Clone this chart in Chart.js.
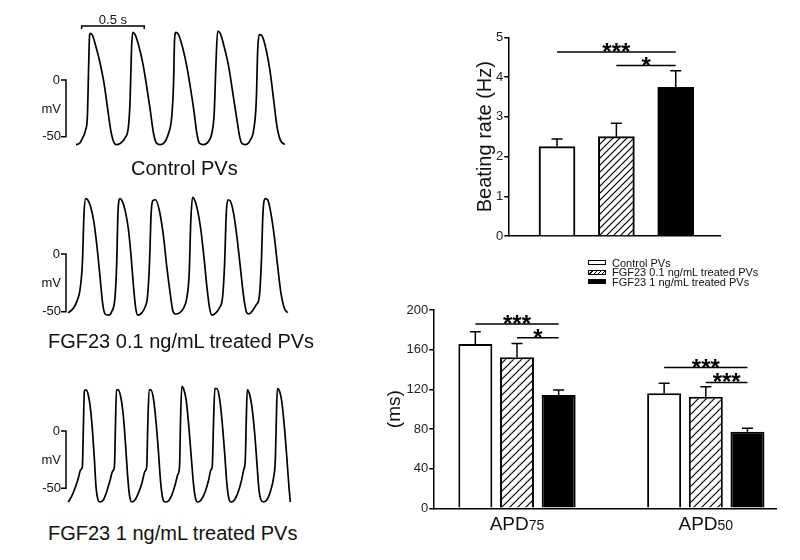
<!DOCTYPE html>
<html lang="en">
<head>
  <meta charset="UTF-8" />
  <title>FGF23 PVs</title>
  <script src="https://cdn.jsdelivr.net/npm/chart.js"></script>
  <style>
    body { margin: 0; background: #fff; width: 800px; height: 560px; position: relative; overflow: hidden;
           font-family: "Liberation Sans", Arial, sans-serif; color: #111; }
    canvas { position: absolute; }
    .caption { position: absolute; font-size: 20px; line-height: 20px; white-space: nowrap; }
    .legend { position: absolute; left: 588px; top: 258px; font-size: 11px; }
    .legend div { display: flex; align-items: center; height: 9.5px; }
    .sw { width: 16px; height: 3px; border: 1px solid #000; margin-right: 6px; background: #fff; }
    .sw.hatch { background: repeating-linear-gradient(135deg, #fff 0 2px, #000 2px 3px); }
    .sw.solid { background: #000; }
  </style>
</head>
<body>

  <canvas id="trace1" width="300" height="175" style="left:0;top:0"></canvas>
  <canvas id="trace2" width="300" height="170" style="left:0;top:180px"></canvas>
  <canvas id="trace3" width="300" height="160" style="left:0;top:360px"></canvas>
  <div class="caption" style="left:131px;top:158px">Control PVs</div>
  <div class="caption" style="left:48px;top:331px">FGF23 0.1 ng/mL treated PVs</div>
  <div class="caption" style="left:48px;top:523px">FGF23 1 ng/mL treated PVs</div>

  <canvas id="rateChart" width="300" height="240" style="left:430px;top:20px"></canvas>
  <div class="legend">
    <div><span class="sw"></span><span>Control PVs</span></div>
    <div><span class="sw hatch"></span><span>FGF23 0.1 ng/mL treated PVs</span></div>
    <div><span class="sw solid"></span><span>FGF23 1 ng/mL treated PVs</span></div>
  </div>
  <canvas id="apdChart" width="420" height="260" style="left:370px;top:295px"></canvas>

  <script>
    // action potential traces, [time ms, membrane potential mV]
    const controlTrace = [
      [0,-57],[27,-56],[53,-51],[77,-44],[91,-32],[101,12],[109,40],[117,41],[133,39],[160,29],[192,15],[224,-3],[251,-24],[277,-44],[299,-54],[320,-57],[352,-56],
      [392,-51],[419,-41],[432,-18],[443,26],[453,42],[472,40],[499,31],[533,15],[565,-6],[592,-26],[619,-47],[645,-56],[672,-57],
      [699,-56],[739,-47],[765,-32],[779,-3],[787,35],[797,42],[819,40],[853,28],[885,12],[917,-9],[944,-29],[965,-47],[987,-56],[1019,-57],
      [1059,-54],[1085,-47],[1104,-29],[1117,12],[1131,43],[1152,41],[1184,29],[1219,12],[1253,-12],[1285,-35],[1307,-50],[1325,-56],[1352,-57],
      [1392,-53],[1419,-44],[1440,-18],[1451,26],[1464,40],[1485,39],[1520,26],[1552,6],[1579,-18],[1605,-41],[1632,-53],[1667,-57]
    ];
    const lowDoseTrace = [
      [-62,-51],[-21,-47],[11,-40],[32,-31],[51,-8],[64,35],[77,48],[93,47],[117,41],[144,27],[171,3],[192,-20],[213,-43],[232,-52],[259,-53],[285,-50],
      [312,-37],[325,-8],[336,38],[352,48],[368,46],[392,38],[419,21],[440,-2],[459,-28],[477,-47],[493,-53],[525,-51],[552,-46],
      [571,-37],[587,-8],[600,35],[613,46],[635,47],[667,37],[699,15],[725,-11],[752,-34],[773,-49],[792,-52],[827,-51],[859,-47],
      [885,-38],[904,-17],[917,29],[931,49],[947,47],[971,38],[997,21],[1024,-5],[1045,-28],[1067,-47],[1085,-53],[1117,-51],[1144,-47],
      [1171,-37],[1187,-8],[1200,35],[1213,47],[1232,46],[1259,35],[1285,15],[1312,-11],[1339,-37],[1360,-50],[1379,-52],[1411,-49],[1440,-44],
      [1464,-37],[1480,-8],[1493,35],[1512,48],[1531,47],[1557,35],[1584,15],[1611,-11],[1637,-34],[1664,-47],[1691,-51]
    ];
    const highDoseTrace = [
      [-62,-62],[-35,-57],[-8,-50],[19,-41],[37,-34],[51,-31],[59,4],[67,35],[80,36],[99,31],[117,18],[133,-2],[147,-25],[160,-49],[173,-59],[192,-62],
      [219,-60],[245,-53],[272,-43],[293,-35],[307,-31],[315,4],[323,36],[336,36],[357,30],[379,12],[397,-14],[413,-40],[427,-56],[445,-62],
      [472,-60],[499,-54],[525,-46],[552,-35],[565,-31],[573,4],[584,36],[597,36],[619,28],[640,7],[659,-19],[677,-46],[693,-59],[712,-62],
      [739,-61],[765,-56],[792,-47],[813,-38],[827,-31],[835,10],[845,39],[859,37],[880,27],[901,4],[920,-22],[939,-47],[955,-59],[973,-62],
      [1000,-60],[1032,-53],[1059,-43],[1077,-34],[1088,-31],[1099,10],[1109,37],[1125,37],[1147,28],[1168,7],[1187,-19],[1205,-46],[1221,-59],[1240,-62],
      [1267,-60],[1293,-54],[1320,-44],[1339,-34],[1352,-25],[1360,10],[1368,36],[1384,33],[1405,21],[1427,-2],[1445,-28],[1461,-51],[1477,-60],[1499,-62],
      [1525,-60],[1552,-53],[1579,-40],[1592,-25],[1600,10],[1608,37],[1621,36],[1643,26],[1664,4],[1685,-25],[1701,-49],[1712,-62]
    ];

    // beating rate (Hz)
    const rateMean = [2.25, 2.5, 3.74];
    const rateErr = [0.19, 0.34, 0.42];
    // [from bar, to bar, level, label]
    const rateSig = [[0, 2, 4.63, '***'], [1, 2, 4.29, '*']];

    // APD (ms)
    const apdCategories = ['APD75', 'APD50'];
    const apdControl = [165.7, 116];
    const apdControlErr = [12.3, 10];
    const apdLow = [152.3, 112.5];
    const apdLowErr = [14, 10];
    const apdHigh = [114.3, 77.3];
    const apdHighErr = [5, 3.4];
    // [category, from series, to series, level, label]
    const apdSig = [[0, 0, 2, 186, '***'], [0, 1, 2, 172, '*'], [1, 0, 2, 142, '***'], [1, 1, 2, 127, '***']];

    const FONT = '"Liberation Sans", Arial, sans-serif';
    Chart.defaults.font.family = FONT;
    Chart.defaults.color = '#222';

    // scale bars drawn next to the traces
    const scaleBars = {
      id: 'scaleBars',
      afterDraw(chart, args, opts) {
        const { ctx, scales: { x, y } } = chart;
        ctx.save();
        ctx.strokeStyle = '#000';
        ctx.fillStyle = '#111';
        ctx.lineWidth = 1.5;
        const bx = x.getPixelForValue(opts.mvAt);
        const y0 = y.getPixelForValue(0), y50 = y.getPixelForValue(-50);
        ctx.beginPath();
        ctx.moveTo(bx - 5, y0); ctx.lineTo(bx, y0); ctx.lineTo(bx, y50); ctx.lineTo(bx - 5, y50);
        ctx.stroke();
        ctx.font = '13px ' + FONT;
        ctx.textAlign = 'right';
        ctx.textBaseline = 'middle';
        ctx.fillText('0', bx - 6, y0);
        ctx.fillText('mV', bx - 5, (y0 + y50) / 2 + 1);
        ctx.fillText('-50', bx - 5, y50);
        if (opts.time) {
          const [t0, t1, lv, label] = opts.time;
          const xa = x.getPixelForValue(t0), xb = x.getPixelForValue(t1), ly = y.getPixelForValue(lv);
          ctx.beginPath();
          ctx.moveTo(xa, ly + 3); ctx.lineTo(xa, ly); ctx.lineTo(xb, ly); ctx.lineTo(xb, ly + 3);
          ctx.stroke();
          ctx.textAlign = 'center';
          ctx.textBaseline = 'alphabetic';
          ctx.fillText(label, (xa + xb) / 2, ly - 2);
        }
        ctx.restore();
      }
    };

    function traceChart(id, pts, yMin, yMax, bars) {
      return new Chart(document.getElementById(id), {
        type: 'line',
        data: {
          datasets: [{
            data: pts.map(p => ({ x: p[0], y: p[1] })),
            borderColor: '#000',
            borderWidth: 1.7,
            pointRadius: 0,
            fill: false,
            cubicInterpolationMode: 'monotone'
          }]
        },
        options: {
          responsive: false,
          animation: false,
          events: [],
          layout: { padding: 0 },
          plugins: { legend: { display: false }, tooltip: { enabled: false }, scaleBars: bars },
          scales: {
            x: { type: 'linear', display: false, min: -607, max: 1789 },
            y: { display: false, min: yMin, max: yMax }
          }
        },
        plugins: [scaleBars]
      });
    }

    traceChart('trace1', controlTrace, -83.8, 70.5, { mvAt: -80, time: [45, 545, 47.6, '0.5 s'] });
    traceChart('trace2', lowDoseTrace, -83.2, 64.1, { mvAt: -80 });
    traceChart('trace3', highDoseTrace, -77.7, 62, { mvAt: -80 });

    function makeHatch(canvasId, step) {
      const c = document.createElement('canvas');
      c.width = step; c.height = step;
      const g = c.getContext('2d');
      g.fillStyle = '#fff';
      g.fillRect(0, 0, step, step);
      g.strokeStyle = '#000';
      g.lineWidth = 1.2;
      g.beginPath();
      g.moveTo(-1, step + 1); g.lineTo(step + 1, -1);
      g.moveTo(-1, 1); g.lineTo(1, -1);
      g.moveTo(step - 1, step + 1); g.lineTo(step + 1, step - 1);
      g.stroke();
      return document.getElementById(canvasId).getContext('2d').createPattern(c, 'repeat');
    }

    // error bars + significance brackets
    const barDeco = {
      id: 'barDeco',
      afterDatasetsDraw(chart, args, opts) {
        const { ctx, scales: { y } } = chart;
        ctx.save();
        ctx.strokeStyle = '#000';
        ctx.lineWidth = 1.5;
        chart.data.datasets.forEach((ds, di) => {
          chart.getDatasetMeta(di).data.forEach((bar, i) => {
            const top = y.getPixelForValue(ds.data[i].y + ds.errors[i]);
            ctx.beginPath();
            ctx.moveTo(bar.x, bar.y); ctx.lineTo(bar.x, top);
            ctx.moveTo(bar.x - 5.5, top); ctx.lineTo(bar.x + 5.5, top);
            ctx.stroke();
          });
        });
        ctx.fillStyle = '#000';
        ctx.font = 'bold 24px ' + FONT;
        ctx.textAlign = 'center';
        ctx.textBaseline = 'alphabetic';
        opts.brackets.forEach(b => {
          const xa = chart.getDatasetMeta(b.from[0]).data[b.from[1]].x;
          const xb = chart.getDatasetMeta(b.to[0]).data[b.to[1]].x;
          const ly = y.getPixelForValue(b.level);
          ctx.beginPath();
          ctx.moveTo(xa, ly); ctx.lineTo(xb, ly);
          ctx.stroke();
          ctx.fillText(b.label, (xa + xb) / 2, ly + 8);
        });
        ctx.restore();
      }
    };

    const axisBorder = { color: '#000', width: 1.5 };
    const yGrid = { drawOnChartArea: false, color: '#000', lineWidth: 1.5, tickLength: 4 };

    new Chart(document.getElementById('rateChart'), {
      type: 'bar',
      data: {
        datasets: [{
          data: rateMean.map((v, i) => ({ x: i + 1, y: v })),
          errors: rateErr,
          backgroundColor: ['#fff', makeHatch('rateChart', 7), '#000'],
          borderColor: '#000',
          borderWidth: 2,
          barThickness: 36
        }]
      },
      options: {
        responsive: false,
        animation: false,
        events: [],
        layout: { padding: { top: 17.3, right: 10, left: 0, bottom: 0 } },
        plugins: {
          legend: { display: false },
          tooltip: { enabled: false },
          barDeco: { brackets: rateSig.map(s => ({ from: [0, s[0]], to: [0, s[1]], level: s[2], label: s[3] })) }
        },
        scales: {
          x: {
            type: 'linear', offset: false, min: 0.179, max: 3.746,
            ticks: { display: false, stepSize: 100 },
            grid: { display: false },
            border: axisBorder,
            afterFit: s => { s.height = 24; }
          },
          y: {
            min: 0, max: 5,
            ticks: { stepSize: 1, font: { size: 13 }, padding: 1 },
            grid: yGrid,
            border: axisBorder,
            title: { display: true, text: 'Beating rate (Hz)', color: '#111', font: { size: 20 }, padding: { top: 43, bottom: 0 } },
            afterFit: s => { s.width = 78.3; }
          }
        }
      },
      plugins: [barDeco]
    });

    // x labels with smaller trailing digits
    const apdLabels = {
      id: 'apdLabels',
      afterDraw(chart) {
        const { ctx, scales: { x } } = chart;
        ctx.save();
        ctx.fillStyle = '#111';
        ctx.textBaseline = 'alphabetic';
        ctx.textAlign = 'left';
        apdCategories.forEach((name, i) => {
          const main = name.slice(0, 3), sub = name.slice(3);
          ctx.font = '19px ' + FONT;
          const w1 = ctx.measureText(main).width;
          ctx.font = '14px ' + FONT;
          const w2 = ctx.measureText(sub).width;
          const left = x.getPixelForValue(i + 1) - (w1 + w2) / 2;
          const base = x.top + 22;
          ctx.font = '19px ' + FONT;
          ctx.fillText(main, left, base);
          ctx.font = '14px ' + FONT;
          ctx.fillText(sub, left + w1, base);
        });
        ctx.restore();
      }
    };

    const apdSeries = [
      { label: 'Control PVs', values: apdControl, errors: apdControlErr, fill: '#fff' },
      { label: 'FGF23 0.1 ng/mL treated PVs', values: apdLow, errors: apdLowErr, fill: makeHatch('apdChart', 8) },
      { label: 'FGF23 1 ng/mL treated PVs', values: apdHigh, errors: apdHighErr, fill: '#000' }
    ];

    new Chart(document.getElementById('apdChart'), {
      type: 'bar',
      data: {
        datasets: apdSeries.map(s => ({
          label: s.label,
          data: s.values.map((v, i) => ({ x: i + 1, y: v })),
          errors: s.errors,
          backgroundColor: s.fill,
          borderColor: '#000',
          borderWidth: 2,
          categoryPercentage: 0.662,
          barPercentage: 0.816
        }))
      },
      options: {
        responsive: false,
        animation: false,
        events: [],
        layout: { padding: { top: 15, right: 13.3, left: 0, bottom: 0 } },
        plugins: {
          legend: { display: false },
          tooltip: { enabled: false },
          barDeco: { brackets: apdSig.map(s => ({ from: [s[1], s[0]], to: [s[2], s[0]], level: s[3], label: s[4] })) }
        },
        scales: {
          x: {
            type: 'linear', offset: false, min: 0.5567, max: 2.3755,
            ticks: { display: false, stepSize: 100 },
            grid: { display: false },
            border: axisBorder,
            afterFit: s => { s.height = 46.7; }
          },
          y: {
            min: 0, max: 200,
            ticks: { stepSize: 40, font: { size: 13 }, padding: 1 },
            grid: yGrid,
            border: axisBorder,
            title: { display: true, text: '(ms)', color: '#111', font: { size: 19 }, padding: { top: 13.3, bottom: 0 } },
            afterFit: s => { s.width = 63.3; }
          }
        }
      },
      plugins: [barDeco, apdLabels]
    });
  </script>
</body>
</html>
